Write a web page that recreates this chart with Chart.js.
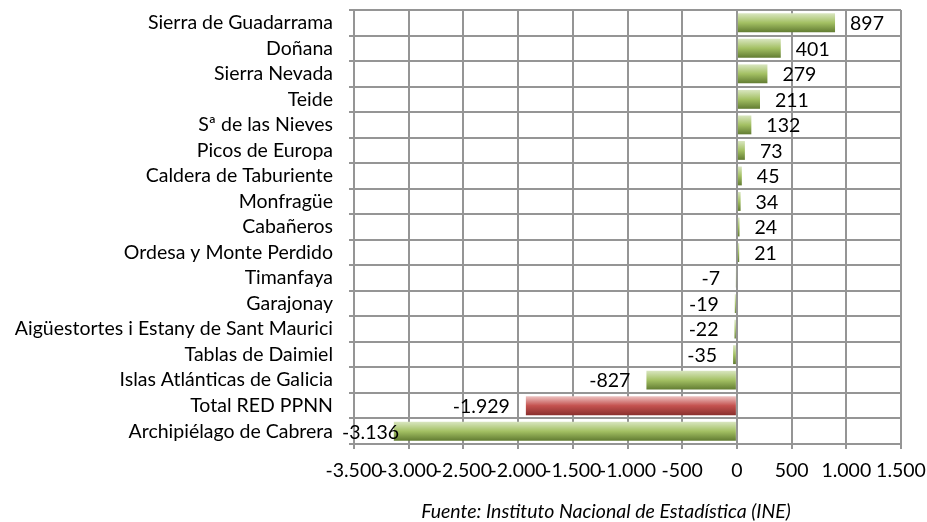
<!DOCTYPE html>
<html>
<head>
<meta charset="utf-8">
<script src="https://cdn.jsdelivr.net/npm/chart.js@4.4.1/dist/chart.umd.min.js"></script>
<style>
  html, body { margin: 0; padding: 0; background: #fff; }
  #wrap { position: relative; width: 927px; height: 522px; }
</style>
</head>
<body>
<div id="wrap"><canvas id="chart" width="927" height="522"></canvas></div>
<script>
// Variación de visitantes por parque nacional (Excel-style horizontal bar chart)

const parks = [
  'Sierra de Guadarrama', 'Doñana', 'Sierra Nevada', 'Teide', 'Sª de las Nieves',
  'Picos de Europa', 'Caldera de Taburiente', 'Monfragüe', 'Cabañeros',
  'Ordesa y Monte Perdido', 'Timanfaya', 'Garajonay',
  'Aigüestortes i Estany de Sant Maurici', 'Tablas de Daimiel',
  'Islas Atlánticas de Galicia', 'Total RED PPNN', 'Archipiélago de Cabrera',
];
const variation = [897, 401, 279, 211, 132, 73, 45, 34, 24, 21, -7, -19, -22, -35, -827, -1929, -3136];
const highlighted = ['Total RED PPNN'];
const xTicks = [-3500, -3000, -2500, -2000, -1500, -1000, -500, 0, 500, 1000, 1500];
const sourceNote = 'Fuente: Instituto Nacional de Estadística (INE)';

const FONT = 'Lato';
const FONT_SIZE = 19.5;
const BAR_PCT = 0.74;
const GRID = '#959595';

// 1.929 style: dot as thousands separator
const fmt = (v) => {
  const s = String(Math.abs(v)).replace(/\B(?=(\d{3})+(?!\d))/g, '.');
  return (v < 0 ? '-' : '') + s;
};

const greenStops = ['#d9e6c0', '#a3c063', '#627c32'];
const redStops = ['#edc3c2', '#c4524f', '#8a2f2d'];

function barFill(ctx) {
  const chart = ctx.chart;
  if (!chart.chartArea) return greenStops[1];
  const y = chart.scales.y;
  const cy = y.getPixelForValue(ctx.dataIndex);
  const band = (y.bottom - y.top) / parks.length;
  const h = band * BAR_PCT;
  const g = chart.ctx.createLinearGradient(0, cy - h / 2, 0, cy + h / 2);
  const stops = highlighted.includes(parks[ctx.dataIndex]) ? redStops : greenStops;
  g.addColorStop(0, stops[0]);
  g.addColorStop(0.5, stops[1]);
  g.addColorStop(1, stops[2]);
  return g;
}

// horizontal grid between categories, drawn under the bars
const rowGrid = {
  id: 'rowGrid',
  beforeDatasetsDraw(chart) {
    const { ctx, chartArea: a, scales: { y } } = chart;
    const band = (y.bottom - y.top) / parks.length;
    ctx.save();
    ctx.strokeStyle = GRID;
    ctx.lineWidth = 2;
    ctx.beginPath();
    for (let i = 0; i <= parks.length; i++) {
      const py = Math.round(y.top + i * band);
      ctx.moveTo(a.left - 5, py);
      ctx.lineTo(a.right, py);
    }
    ctx.stroke();
    ctx.restore();
  },
};

const valueLabels = {
  id: 'valueLabels',
  afterDatasetsDraw(chart) {
    const { ctx, scales: { x, y } } = chart;
    ctx.save();
    ctx.font = `${FONT_SIZE}px ${FONT}`;
    ctx.fillStyle = '#000';
    ctx.textBaseline = 'middle';
    ctx.textAlign = 'left';
    variation.forEach((v, i) => {
      const end = x.getPixelForValue(v);
      const cy = y.getPixelForValue(i);
      const txt = fmt(v);
      if (v >= 0) {
        ctx.fillText(txt, end + 15, cy + 1);
      } else {
        const w = ctx.measureText(txt).width;
        ctx.fillText(txt, Math.max(end - 16 - w, 342), cy + 1);
      }
    });
    ctx.restore();
  },
};

const sourceText = {
  id: 'sourceText',
  afterDraw(chart) {
    const { ctx } = chart;
    ctx.save();
    ctx.font = `italic ${FONT_SIZE}px ${FONT}`;
    ctx.fillStyle = '#000';
    ctx.textAlign = 'center';
    ctx.textBaseline = 'middle';
    ctx.fillText(sourceNote, 606, 512);
    ctx.restore();
  },
};

new Chart(document.getElementById('chart'), {
  type: 'bar',
  data: {
    labels: parks,
    datasets: [{
      data: variation,
      backgroundColor: barFill,
      borderWidth: 0,
      barPercentage: BAR_PCT,
      categoryPercentage: 1,
    }],
  },
  options: {
    indexAxis: 'y',
    responsive: false,
    animation: false,
    layout: { padding: { top: 10, right: 26, left: 0, bottom: 0 } },
    plugins: { legend: { display: false }, tooltip: { enabled: false } },
    scales: {
      x: {
        min: xTicks[0], max: xTicks[xTicks.length - 1],
        afterBuildTicks: (s) => { s.ticks = xTicks.map((value) => ({ value })); },
        afterFit: (s) => { s.height = 78; s.paddingLeft = 0; s.paddingRight = 0; },
        ticks: {
          autoSkip: false, maxRotation: 0, padding: 10, color: '#000',
          font: { family: FONT, size: FONT_SIZE },
          callback: (v) => fmt(v),
        },
        grid: { color: GRID, lineWidth: 2, tickLength: 5 },
        border: { color: GRID, width: 2 },
      },
      y: {
        afterFit: (s) => { s.width = 354; s.paddingTop = 0; s.paddingBottom = 0; },
        ticks: { autoSkip: false, color: '#000', padding: 13, font: { family: FONT, size: FONT_SIZE } },
        grid: { display: false },
        border: { color: GRID, width: 2 },
      },
    },
  },
  plugins: [rowGrid, valueLabels, sourceText],
});
</script>
</body>
</html>
